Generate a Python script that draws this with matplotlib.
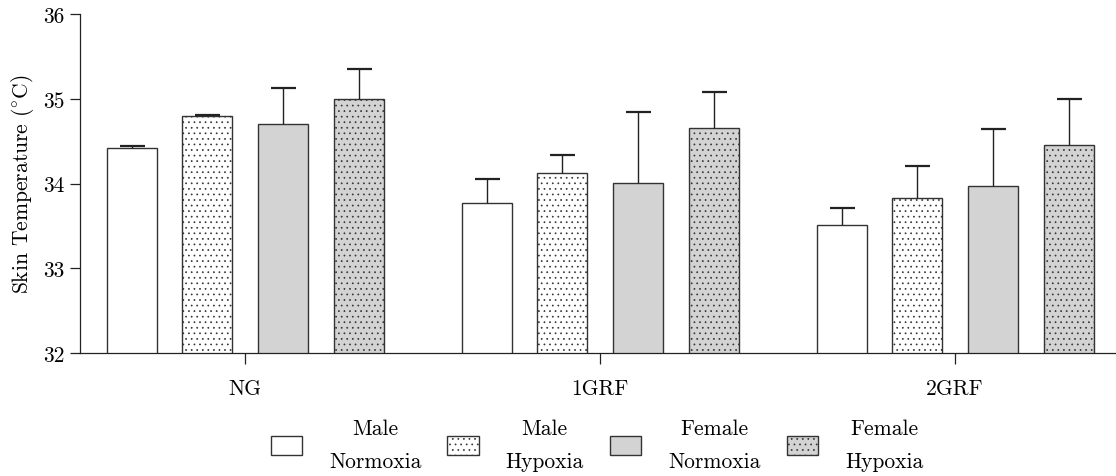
import numpy as np
import matplotlib
matplotlib.use("Agg")
import matplotlib.pyplot as plt

plt.rcParams["font.family"] = ["cmr10", "DejaVu Serif"]
plt.rcParams["mathtext.fontset"] = "cm"
plt.rcParams["axes.unicode_minus"] = False
plt.rcParams["hatch.linewidth"] = 0.5

# Data
groups = ["NG", "1GRF", "2GRF"]
series = ["Male\nNormoxia", "Male\nHypoxia", "Female\nNormoxia", "Female\nHypoxia"]
male_normoxia = [34.42, 33.77, 33.51]
male_hypoxia = [34.80, 34.12, 33.83]
female_normoxia = [34.70, 34.01, 33.97]
female_hypoxia = [35.00, 34.66, 34.46]
male_normoxia_err = [0.02, 0.28, 0.20]
male_hypoxia_err = [0.01, 0.22, 0.38]
female_normoxia_err = [0.43, 0.84, 0.67]
female_hypoxia_err = [0.35, 0.42, 0.54]

means = [male_normoxia, male_hypoxia, female_normoxia, female_hypoxia]
errs = [male_normoxia_err, male_hypoxia_err, female_normoxia_err, female_hypoxia_err]
faces = ["white", "white", "#d3d3d3", "#d3d3d3"]
hatches = [None, "...", None, "..."]
offsets = [-0.318, -0.107, 0.107, 0.320]
width = 0.141

FS = 15.5
W, H = 1116, 477
fig = plt.figure(figsize=(W / 100, H / 100), dpi=100)
ax = fig.add_axes([80 / W, 1 - 354 / H, (W - 80) / W, (354 - 15.3) / H])

x = np.arange(len(groups))
handles = []
for m, e, fc, ht, off, lab in zip(means, errs, faces, hatches, offsets, series):
    b = ax.bar(x + off, m, width, bottom=0, color=fc, edgecolor="#333333",
               linewidth=1.0, hatch=ht, label=lab, zorder=2)
    handles.append(b)
    # upper error bars only
    _, caps, _ = ax.errorbar(x + off, m, yerr=[np.zeros(len(e)), e], fmt="none",
                             ecolor="#222222", elinewidth=1.0, capsize=9,
                             capthick=1.6, zorder=3)
    caps[0].set_visible(False)

ax.set_ylim(32, 36)
ax.set_xlim(-0.4648, 2.4535)
ax.set_yticks([32, 33, 34, 35, 36])
ax.set_xticks(x)
ax.set_xticklabels(groups)
ax.set_ylabel(r"Skin Temperature ($^{\circ}$C)", fontsize=FS, labelpad=5)

for s in ["top", "right"]:
    ax.spines[s].set_visible(False)
for s in ["left", "bottom"]:
    ax.spines[s].set_linewidth(0.9)
    ax.spines[s].set_color("#222222")

ax.tick_params(axis="y", length=7, width=0.9, labelsize=FS, pad=4, color="#222222")
ax.tick_params(axis="x", length=8, width=0.9, labelsize=FS, pad=10, color="#222222")

leg = fig.legend(handles=handles, labels=series, loc="center",
                 bbox_to_anchor=(597 / W, 1 - 446 / H), ncol=4, frameon=False,
                 fontsize=FS, handlelength=1.45, handleheight=0.95,
                 handletextpad=1.25, columnspacing=1.22)
for t in leg.get_texts():
    t.set_multialignment("center")
    t.set_linespacing(1.9)

fig.savefig("out.png", dpi=100)
